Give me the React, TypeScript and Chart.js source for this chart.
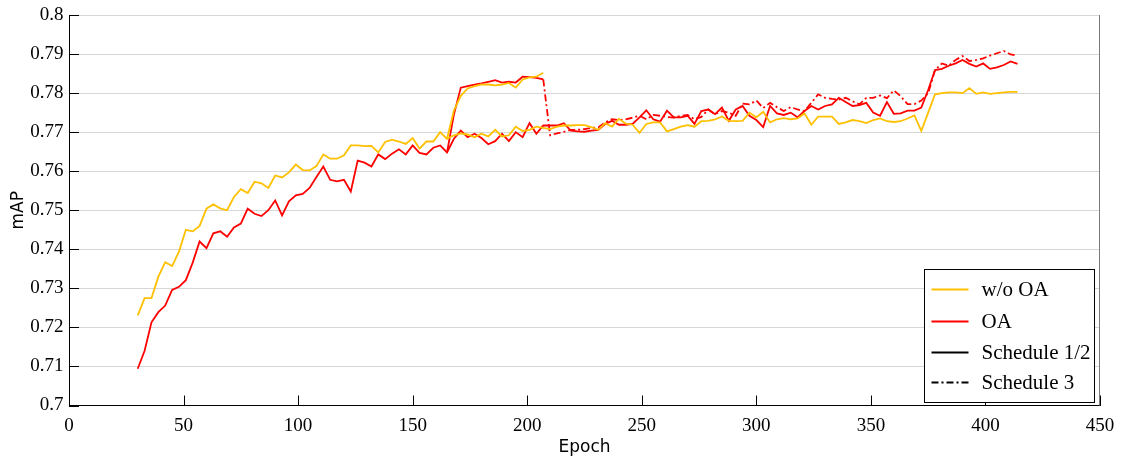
import { useEffect, useRef } from 'react';
import { Chart, registerables } from 'chart.js';

Chart.register(...registerables);

// ---- data (mAP per epoch, one point every 3 epochs) ----
const EPOCH_START = 30;
const EPOCH_STEP = 3;
const BRANCH_START = 165;
const SCHED3_START = 207;

// w/o OA, Schedule 1/2, main run (epochs 30..414)
const woOAMain = [
  0.7231, 0.7275, 0.7275, 0.7330, 0.7367, 0.7357, 0.7394, 0.7450, 0.7446, 0.7460,
  0.7504, 0.7515, 0.7505, 0.7500, 0.7534, 0.7554, 0.7544, 0.7573, 0.7569, 0.7557,
  0.7589, 0.7584, 0.7597, 0.7617, 0.7603, 0.7602, 0.7613, 0.7643, 0.7632, 0.7632,
  0.7641, 0.7666, 0.7666, 0.7664, 0.7665, 0.7648, 0.7675, 0.7681, 0.7676, 0.7670,
  0.7685, 0.7658, 0.7676, 0.7676, 0.7700, 0.7683, 0.7692, 0.7697, 0.7694, 0.7687,
  0.7696, 0.7689, 0.7706, 0.7689, 0.7692, 0.7714, 0.7703, 0.7706, 0.7714, 0.7711,
  0.7708, 0.7714, 0.7717, 0.7717, 0.7718, 0.7718, 0.7713, 0.7706, 0.7723, 0.7714,
  0.7734, 0.7722, 0.7719, 0.7698, 0.7721, 0.7725, 0.7725, 0.7702, 0.7708, 0.7714,
  0.7718, 0.7714, 0.7728, 0.7729, 0.7733, 0.7740, 0.7729, 0.7728, 0.7729, 0.7750,
  0.7738, 0.7752, 0.7725, 0.7733, 0.7736, 0.7733, 0.7735, 0.7748, 0.7719, 0.7740,
  0.7740, 0.7740, 0.7721, 0.7725, 0.7731, 0.7728, 0.7723, 0.7731, 0.7735, 0.7728,
  0.7726, 0.7728, 0.7735, 0.7743, 0.7703, 0.7750, 0.7797, 0.7800, 0.7802, 0.7802,
  0.7800, 0.7813, 0.7798, 0.7802, 0.7798, 0.7800, 0.7802, 0.7803, 0.7803,
];

// OA, Schedule 1/2, main run (epochs 30..414)
const oaMain = [
  0.7094, 0.7140, 0.7213, 0.7239, 0.7256, 0.7296, 0.7304, 0.7321, 0.7366, 0.7420,
  0.7403, 0.7441, 0.7446, 0.7432, 0.7456, 0.7466, 0.7504, 0.7491, 0.7485, 0.7500,
  0.7525, 0.7487, 0.7523, 0.7538, 0.7542, 0.7557, 0.7585, 0.7612, 0.7578, 0.7574,
  0.7578, 0.7548, 0.7627, 0.7622, 0.7612, 0.7643, 0.7631, 0.7645, 0.7656, 0.7643,
  0.7666, 0.7647, 0.7643, 0.7660, 0.7666, 0.7648, 0.7683, 0.7704, 0.7687, 0.7696,
  0.7685, 0.7669, 0.7677, 0.7696, 0.7677, 0.7700, 0.7687, 0.7723, 0.7696, 0.7717,
  0.7717, 0.7717, 0.7723, 0.7704, 0.7702, 0.7701, 0.7704, 0.7706, 0.7721, 0.7729,
  0.7719, 0.7719, 0.7721, 0.7738, 0.7756, 0.7733, 0.7727, 0.7755, 0.7738, 0.7738,
  0.7742, 0.7721, 0.7754, 0.7758, 0.7746, 0.7763, 0.7729, 0.7758, 0.7767, 0.7742,
  0.7731, 0.7713, 0.7767, 0.7748, 0.7744, 0.7750, 0.7738, 0.7754, 0.7767, 0.7758,
  0.7767, 0.7771, 0.7788, 0.7777, 0.7767, 0.7769, 0.7775, 0.7750, 0.7742, 0.7777,
  0.7747, 0.7748, 0.7755, 0.7755, 0.7763, 0.7808, 0.7859, 0.7862, 0.7870, 0.7876,
  0.7885, 0.7875, 0.7868, 0.7876, 0.7862, 0.7866, 0.7872, 0.7881, 0.7875,
];

// upper branch (early lr step) epochs 165..207
const woOAUpper = [
  0.7683, 0.7755, 0.7793, 0.7812, 0.7818, 0.7822, 0.7822, 0.7820, 0.7822, 0.7826,
  0.7814, 0.7835, 0.7840, 0.7842, 0.7852,
];
const oaUpper = [
  0.7648, 0.7745, 0.7814, 0.7818, 0.7822, 0.7825, 0.7829, 0.7833, 0.7827, 0.7829,
  0.7827, 0.7842, 0.7841, 0.7839, 0.7835,
];

// OA, Schedule 3 (epochs 207..414)
const oaSchedule3 = [
  0.7835, 0.7692, 0.7697, 0.7701, 0.7706, 0.7706, 0.7708, 0.7711, 0.7712, 0.7725,
  0.7733, 0.7731, 0.7733, 0.7737, 0.7742, 0.7733, 0.7744, 0.7742, 0.7739, 0.7737,
  0.7742, 0.7744, 0.7733, 0.7739, 0.7758, 0.7746, 0.7754, 0.7750, 0.7742, 0.7773,
  0.7771, 0.7781, 0.7762, 0.7775, 0.7764, 0.7754, 0.7764, 0.7758, 0.7754, 0.7775,
  0.7797, 0.7788, 0.7785, 0.7783, 0.7788, 0.7779, 0.7771, 0.7788, 0.7788, 0.7794,
  0.7787, 0.7807, 0.7792, 0.7772, 0.7772, 0.7781, 0.7800, 0.7859, 0.7876, 0.7870,
  0.7885, 0.7895, 0.7882, 0.7885, 0.7889, 0.7896, 0.7902, 0.7908, 0.7899, 0.7896,
];

const xTicks = [0, 50, 100, 150, 200, 250, 300, 350, 400, 450];
const yTicks = [0.7, 0.71, 0.72, 0.73, 0.74, 0.75, 0.76, 0.77, 0.78, 0.79, 0.8];
const legendLabels = ['w/o OA', 'OA', 'Schedule 1/2', 'Schedule 3'];

const YELLOW = '#FFC000';
const RED = '#FF0000';
const DASH_DOT = [7, 3, 2, 3];
const SERIF = "'Liberation Serif', 'Times New Roman', serif";
const SANS = "'DejaVu Sans', sans-serif";

function series(values: number[], start: number) {
  return values.map((y, i) => ({ x: start + i * EPOCH_STEP, y }));
}

const framePlugin = {
  id: 'frame',
  afterDraw(chart: any) {
    const { ctx, chartArea: a, scales } = chart;
    ctx.save();
    // inward tick marks
    ctx.strokeStyle = '#000';
    ctx.lineWidth = 1;
    ctx.setLineDash([]);
    ctx.beginPath();
    yTicks.forEach((v) => {
      const y = Math.round(scales.y.getPixelForValue(v)) + 0.5;
      ctx.moveTo(a.left, y);
      ctx.lineTo(a.left + 10, y);
    });
    xTicks.forEach((v) => {
      const x = Math.round(scales.x.getPixelForValue(v)) + 0.5;
      ctx.moveTo(x, a.bottom);
      ctx.lineTo(x, a.bottom - 10);
    });
    ctx.stroke();
    // right border
    ctx.strokeStyle = '#7a7a7a';
    ctx.beginPath();
    ctx.moveTo(Math.round(a.right) - 0.5, a.top);
    ctx.lineTo(Math.round(a.right) - 0.5, a.bottom);
    ctx.stroke();

    // legend box
    const bw = 170;
    const bh = 133;
    const bx = Math.round(a.right - 6 - bw) + 0.5;
    const by = Math.round(a.bottom - 3.5 - bh) + 0.5;
    ctx.fillStyle = '#fff';
    ctx.fillRect(bx, by, bw, bh);
    ctx.strokeStyle = '#000';
    ctx.strokeRect(bx, by, bw, bh);
    const rows = [20, 52, 83, 113];
    const colors = [YELLOW, RED, '#000', '#000'];
    const dashes = [[], [], [], DASH_DOT];
    ctx.font = `21px ${SERIF}`;
    ctx.textBaseline = 'middle';
    ctx.textAlign = 'left';
    legendLabels.forEach((label, i) => {
      const y = by + rows[i];
      ctx.strokeStyle = colors[i];
      ctx.lineWidth = 1.8;
      ctx.setLineDash(dashes[i]);
      ctx.beginPath();
      ctx.moveTo(bx + 7, y);
      ctx.lineTo(bx + 44, y);
      ctx.stroke();
      ctx.setLineDash([]);
      ctx.fillStyle = '#000';
      ctx.fillText(label, bx + 57, y + 1);
    });
    ctx.restore();
  },
};

export default function App() {
  const ref = useRef<HTMLCanvasElement | null>(null);
  useEffect(() => {
    document.body.style.margin = '0';
    if (!ref.current) return;
    const common = { pointRadius: 0, borderWidth: 1.8, tension: 0, fill: false };
    const chart = new Chart(ref.current, {
      type: 'line',
      data: {
        datasets: [
          { label: 'w/o OA', data: series(woOAMain, EPOCH_START), borderColor: YELLOW, ...common },
          { label: 'w/o OA (branch)', data: series(woOAUpper, BRANCH_START), borderColor: YELLOW, ...common },
          { label: 'OA', data: series(oaMain, EPOCH_START), borderColor: RED, ...common },
          { label: 'OA (branch)', data: series(oaUpper, BRANCH_START), borderColor: RED, ...common },
          { label: 'OA Schedule 3', data: series(oaSchedule3, SCHED3_START), borderColor: RED, borderDash: DASH_DOT, ...common },
        ],
      },
      options: {
        responsive: false,
        animation: false,
        devicePixelRatio: 1,
        layout: { padding: { left: 0, right: 22, top: 9.5, bottom: 0 } },
        plugins: { legend: { display: false }, tooltip: { enabled: false } },
        scales: {
          x: {
            type: 'linear',
            min: 0,
            max: 450,
            afterBuildTicks: (s: any) => { s.ticks = xTicks.map((v) => ({ value: v })); },
            afterFit: (s: any) => { s.height = 53.5; },
            grid: { display: false },
            border: { display: true, color: '#000', width: 1 },
            ticks: {
              autoSkip: false, maxRotation: 0, padding: 3, color: '#000',
              font: { family: SERIF, size: 19, lineHeight: 1 },
            },
            title: {
              display: true, text: 'Epoch', color: '#000',
              font: { family: SANS, size: 17, lineHeight: 1.2 },
              padding: { top: 0, bottom: 1 },
            },
          },
          y: {
            type: 'linear',
            min: 0.7,
            max: 0.8,
            afterBuildTicks: (s: any) => { s.ticks = yTicks.map((v) => ({ value: v })); },
            afterFit: (s: any) => { s.width = 69; },
            grid: { color: '#d6d6d6', lineWidth: 1, drawTicks: false },
            border: { display: true, color: '#000', width: 1 },
            ticks: {
              padding: 5.5, color: '#000',
              font: { family: SERIF, size: 19, lineHeight: 1 },
              callback: (v: any) => String(Number(Number(v).toFixed(2))),
            },
            title: {
              display: true, text: 'mAP', color: '#000',
              font: { family: SANS, size: 17, lineHeight: 1.2 },
              padding: { top: 8, bottom: 0 },
            },
          },
        },
      },
      plugins: [framePlugin],
    });
    return () => chart.destroy();
  }, []);
  return <canvas ref={ref} width={1122} height={459} style={{ display: 'block' }} />;
}
